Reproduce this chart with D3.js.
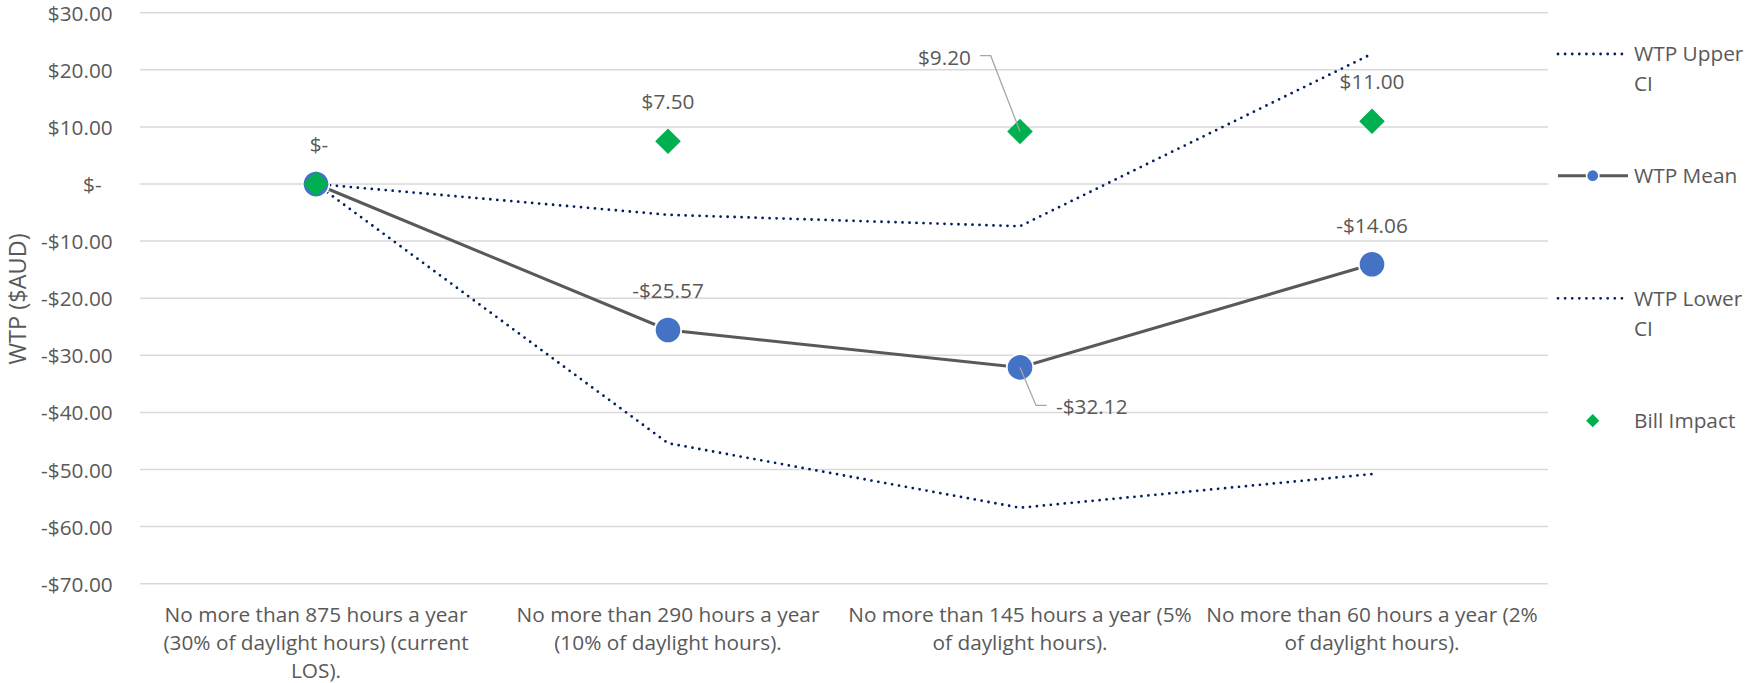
<!DOCTYPE html>
<html>
<head>
<meta charset="utf-8">
<script src="https://cdn.jsdelivr.net/npm/d3@7"></script>
<style>
  html, body { margin: 0; padding: 0; background: #ffffff; }
  svg { display: block; font-family: "Open Sans", sans-serif; }
</style>
</head>
<body>
<svg id="chart" width="1747" height="683"></svg>
<script>
// Service levels (category axis), one array of wrapped lines per level
const categories = [
  ["No more than 875 hours a year", "(30% of daylight hours) (current", "LOS)."],
  ["No more than 290 hours a year", "(10% of daylight hours)."],
  ["No more than 145 hours a year (5%", "of daylight hours)."],
  ["No more than 60 hours a year (2%", "of daylight hours)."]
];
const categoryKeys = categories.map(c => c.join(" "));

// Series values ($AUD)
const wtpUpper = [0, -5.4, -7.4, 22.8];
const wtpMean = [0, -25.57, -32.12, -14.06];
const wtpLower = [0, -45.4, -56.7, -50.8];
const billImpact = [0, 7.50, 9.20, 11.00];

// Value axis
const yTicks = [30, 20, 10, 0, -10, -20, -30, -40, -50, -60, -70];
const yTitle = "WTP ($AUD)";

// Legend entries
const legendNames = [["WTP Upper", "CI"], ["WTP Mean"], ["WTP Lower", "CI"], ["Bill Impact"]];

const TEXT = "#595959";
const GRID = "#D9D9D9";
const NAVY = "#002060";
const LINE = "#595959";
const BLUE = "#4472C4";
const GREEN = "#00B050";
const FS = 20.8;

const svg = d3.select("#chart");

const x = d3.scaleBand().domain(categoryKeys).range([140, 1548]);
const cx = i => x(categoryKeys[i]) + x.bandwidth() / 2;
const y = d3.scaleLinear().domain([-70, 30]).range([583.7, 12.7]);

const fmt = v => v === 0 ? "$-" : (v < 0 ? "-" : "") + "$" + Math.abs(v).toFixed(2);

// Gridlines
svg.append("g")
  .selectAll("line")
  .data(yTicks)
  .join("line")
  .attr("x1", 140).attr("x2", 1548)
  .attr("y1", d => y(d)).attr("y2", d => y(d))
  .attr("stroke", GRID).attr("stroke-width", 1.5);

// Value axis labels
const yAxis = svg.append("g")
  .attr("transform", "translate(140,0)")
  .call(d3.axisLeft(y).tickValues(yTicks).tickSize(0).tickPadding(27.3).tickFormat(fmt));
yAxis.select(".domain").remove();
yAxis.selectAll("text")
  .attr("font-family", "Open Sans, sans-serif")
  .attr("font-size", FS)
  .attr("fill", TEXT)
  .attr("dy", "0.36em")
  .attr("dx", d => d === 0 ? -11 : 0);

// Axis title
svg.append("text")
  .attr("transform", "translate(18,299) rotate(-90)")
  .attr("text-anchor", "middle")
  .attr("dy", "0.35em")
  .attr("font-size", 23.5)
  .attr("fill", TEXT)
  .text(yTitle);

// Category labels
const catG = svg.append("g");
categories.forEach((lines, i) => {
  const t = catG.append("text")
    .attr("text-anchor", "middle")
    .attr("font-size", FS)
    .attr("fill", TEXT);
  lines.forEach((ln, j) => {
    t.append("tspan").attr("x", cx(i)).attr("y", 621.5 + j * 28.2).text(ln);
  });
});

// Lines
const lineGen = d3.line().x((d, i) => cx(i)).y(d => y(d));

svg.append("path").datum(wtpUpper)
  .attr("d", lineGen).attr("fill", "none")
  .attr("stroke", NAVY).attr("stroke-width", 2.8)
  .attr("stroke-linecap", "round").attr("stroke-dasharray", "0 7");

svg.append("path").datum(wtpLower)
  .attr("d", lineGen).attr("fill", "none")
  .attr("stroke", NAVY).attr("stroke-width", 2.8)
  .attr("stroke-linecap", "round").attr("stroke-dasharray", "0 7");

svg.append("path").datum(wtpMean)
  .attr("d", lineGen).attr("fill", "none")
  .attr("stroke", LINE).attr("stroke-width", 3);

// Mean markers
svg.append("g").selectAll("circle")
  .data(wtpMean)
  .join("circle")
  .attr("cx", (d, i) => cx(i)).attr("cy", d => y(d))
  .attr("r", 13.2)
  .attr("fill", BLUE).attr("stroke", "#ffffff").attr("stroke-width", 1.8);

// Bill impact diamonds
const diamond = (px, py, h) => `M${px},${py - h}L${px + h},${py}L${px},${py + h}L${px - h},${py}Z`;
svg.append("g").selectAll("path")
  .data(billImpact)
  .join("path")
  .attr("d", (d, i) => diamond(cx(i), y(d), 12.8))
  .attr("fill", GREEN);

// Data labels
const lbl = (px, py, txt, anchor) => svg.append("text")
  .attr("x", px).attr("y", py).attr("dy", "0.35em")
  .attr("text-anchor", anchor || "middle")
  .attr("font-size", FS).attr("fill", TEXT).text(txt);

const leader = pts => svg.append("path")
  .attr("d", d3.line()(pts)).attr("fill", "none")
  .attr("stroke", "#A6A6A6").attr("stroke-width", 1.3);

// WTP Mean labels
wtpMean.forEach((v, i) => {
  if (i === 0) return; // zero label shown with the bill impact series
  if (i === 2) {
    const px = cx(i), py = y(v);
    leader([[px, py], [px + 16, py + 38], [px + 26.7, py + 38]]);
    lbl(px + 36, py + 39, fmt(v), "start");
  } else {
    lbl(cx(i), y(v) - 39, fmt(v));
  }
});

// Bill impact labels
billImpact.forEach((v, i) => {
  if (i === 2) {
    const px = cx(i), py = y(v);
    leader([[px, py], [px - 29.3, py - 75.8], [px - 40, py - 75.8]]);
    lbl(px - 49, py - 73.8, fmt(v), "end");
  } else {
    lbl(cx(i) + (v === 0 ? 3 : 0), y(v) - 39, fmt(v));
  }
});

// Legend
const legY = [54, 175.7, 298.3, 420.7];
const lg = svg.append("g");
legendNames.forEach((names, i) => {
  const ly = legY[i];
  if (i === 0 || i === 2) {
    lg.append("line").attr("x1", 1558).attr("x2", 1623).attr("y1", ly).attr("y2", ly)
      .attr("stroke", NAVY).attr("stroke-width", 2.8)
      .attr("stroke-linecap", "round").attr("stroke-dasharray", "0 7.1");
  } else if (i === 1) {
    lg.append("line").attr("x1", 1558).attr("x2", 1628).attr("y1", ly).attr("y2", ly)
      .attr("stroke", LINE).attr("stroke-width", 3);
    lg.append("circle").attr("cx", 1592.7).attr("cy", ly).attr("r", 6.2)
      .attr("fill", BLUE).attr("stroke", "#ffffff").attr("stroke-width", 1.6);
  } else {
    lg.append("path").attr("d", diamond(1592.7, ly, 6.6)).attr("fill", GREEN);
  }
  const t = lg.append("text").attr("font-size", FS).attr("fill", TEXT);
  names.forEach((n, j) => {
    t.append("tspan").attr("x", 1634).attr("y", ly + j * 30).attr("dy", "0.35em").text(n);
  });
});
</script>
</body>
</html>
